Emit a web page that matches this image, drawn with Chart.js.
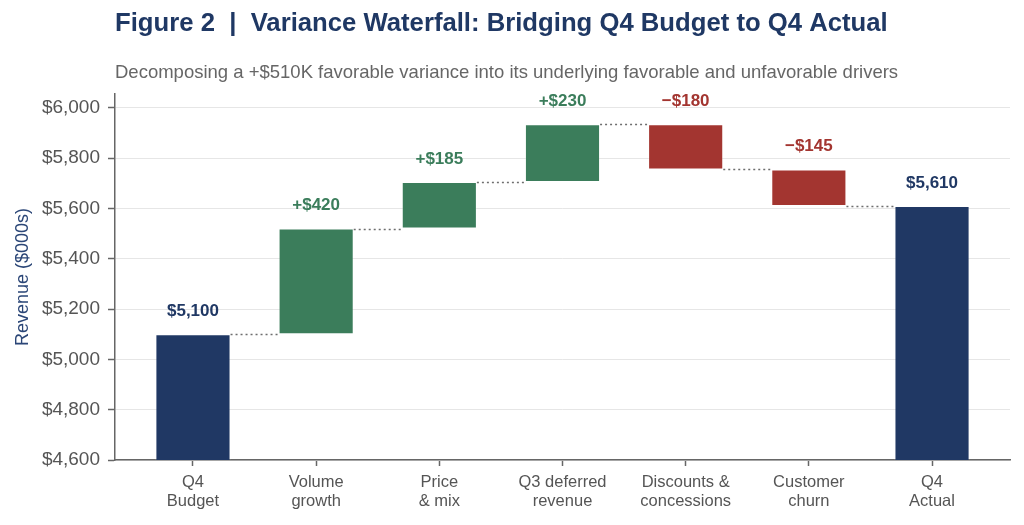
<!DOCTYPE html>
<html>
<head>
<meta charset="utf-8">
<script src="https://cdn.jsdelivr.net/npm/chart.js@4.4.1/dist/chart.umd.min.js"></script>
<style>
  html, body { margin: 0; padding: 0; background: #fff; }
  #wrap { width: 1024px; height: 525px; position: relative; }
</style>
</head>
<body>
<div id="wrap"><canvas id="c" width="1024" height="525"></canvas></div>
<script>
// ---- Data ----
const categories = [["Q4","Budget"],["Volume","growth"],["Price","& mix"],["Q3 deferred","revenue"],["Discounts &","concessions"],["Customer","churn"],["Q4","Actual"]];
const amounts = [5100, 420, 185, 230, -180, -145, 5610];
const kinds = ["total","delta","delta","delta","delta","delta","total"];
const valueLabels = ["$5,100","+$420","+$185","+$230","\u2212$180","\u2212$145","$5,610"];
const yTicks = [4600, 4800, 5000, 5200, 5400, 5600, 5800, 6000];

const titleText = "Figure 2  |  Variance Waterfall: Bridging Q4 Budget to Q4 Actual";
const subtitleText = "Decomposing a +$510K favorable variance into its underlying favorable and unfavorable drivers";

const NAVY = "#203864", GREEN = "#3b7d5b", RED = "#a33530";
const FONT = "'Liberation Sans', Arial, sans-serif";

// Build floating bars and running totals
const ranges = [];
const levels = [];
let running = 0;
amounts.forEach((v, i) => {
  if (kinds[i] === "total") {
    ranges.push([0, v]);
    running = v;
  } else {
    ranges.push([running, running + v]);
    running += v;
  }
  levels.push(running);
});
const colors = amounts.map((v, i) => kinds[i] === "total" ? NAVY : (v >= 0 ? GREEN : RED));
const labelColors = colors;

const barData = ranges.map((r, i) => ({ x: i, y: r }));

const headerPlugin = {
  id: "header",
  afterDraw(chart) {
    const ctx = chart.ctx;
    ctx.save();
    ctx.textBaseline = "middle";
    ctx.textAlign = "left";
    ctx.fillStyle = "#1f3864";
    ctx.font = "bold 25.7px " + FONT;
    ctx.fillText(titleText, 115, 24);
    ctx.fillStyle = "#666666";
    ctx.font = "18.5px " + FONT;
    ctx.fillText(subtitleText, 115, 73);
    ctx.restore();
  }
};

const connectorPlugin = {
  id: "connectors",
  afterDatasetsDraw(chart) {
    const meta = chart.getDatasetMeta(0);
    const ys = chart.scales.y;
    const ctx = chart.ctx;
    ctx.save();
    ctx.strokeStyle = "#6e6e6e";
    ctx.lineWidth = 1.5;
    ctx.setLineDash([2, 3]);
    for (let i = 0; i < meta.data.length - 1; i++) {
      const a = meta.data[i], b = meta.data[i + 1];
      const y = Math.round(ys.getPixelForValue(levels[i])) + 0.5;
      ctx.beginPath();
      ctx.moveTo(a.x + a.width / 2, y);
      ctx.lineTo(b.x - b.width / 2, y);
      ctx.stroke();
    }
    ctx.restore();
  }
};

const valueLabelPlugin = {
  id: "valueLabels",
  afterDatasetsDraw(chart) {
    const meta = chart.getDatasetMeta(0);
    const ctx = chart.ctx;
    ctx.save();
    ctx.textAlign = "center";
    ctx.textBaseline = "middle";
    ctx.font = "bold 17px " + FONT;
    meta.data.forEach((el, i) => {
      const top = Math.min(el.y, el.base);
      ctx.fillStyle = labelColors[i];
      ctx.fillText(valueLabels[i], el.x, top - 23);
    });
    ctx.restore();
  }
};

new Chart(document.getElementById("c"), {
  type: "bar",
  data: {
    datasets: [{
      data: barData,
      backgroundColor: colors,
      borderColor: "rgba(255,255,255,0.25)",
      borderWidth: 1,
      borderSkipped: false,
      barPercentage: 0.61,
      categoryPercentage: 1.0
    }]
  },
  options: {
    responsive: false,
    animation: false,
    devicePixelRatio: 1,
    layout: { padding: { top: 94, left: 0, right: 14, bottom: 0 } },
    plugins: {
      legend: { display: false },
      title: { display: false },
      tooltip: { enabled: false }
    },
    scales: {
      x: {
        type: "linear",
        offset: false,
        min: -0.633,
        max: 6.633,
        afterBuildTicks(scale) {
          scale.ticks = categories.map((c, i) => ({ value: i }));
        },
        afterFit(scale) { scale.height = 65; },
        ticks: {
          autoSkip: false,
          maxRotation: 0,
          padding: 7,
          color: "#555555",
          font: { family: FONT, size: 16.5, lineHeight: 1.15 },
          callback: (v) => categories[v]
        },
        grid: {
          display: true,
          offset: false,
          drawOnChartArea: false,
          drawTicks: true,
          tickLength: 6,
          tickColor: "#666666",
          tickWidth: 1.5
        },
        border: { display: true, color: "#666666", width: 1.5 }
      },
      y: {
        min: 4600,
        max: 6055,
        afterBuildTicks(scale) {
          scale.ticks = yTicks.map(v => ({ value: v }));
        },
        afterFit(scale) { scale.width = 115; },
        ticks: {
          padding: 8,
          color: "#555555",
          font: { family: FONT, size: 19 },
          callback: (v) => "$" + v.toString().replace(/\B(?=(\d{3})+(?!\d))/g, ",")
        },
        grid: {
          color: "#e6e6e6",
          lineWidth: 1,
          drawTicks: true,
          tickLength: 7,
          tickColor: "#666666",
          tickWidth: 1.5
        },
        border: { display: true, color: "#666666", width: 1.5 },
        title: {
          display: true,
          text: "Revenue ($000s)",
          color: "#2b4677",
          font: { family: FONT, size: 18 },
          padding: { top: 12, bottom: 0 }
        }
      }
    }
  },
  plugins: [headerPlugin, connectorPlugin, valueLabelPlugin]
});
</script>
</body>
</html>
